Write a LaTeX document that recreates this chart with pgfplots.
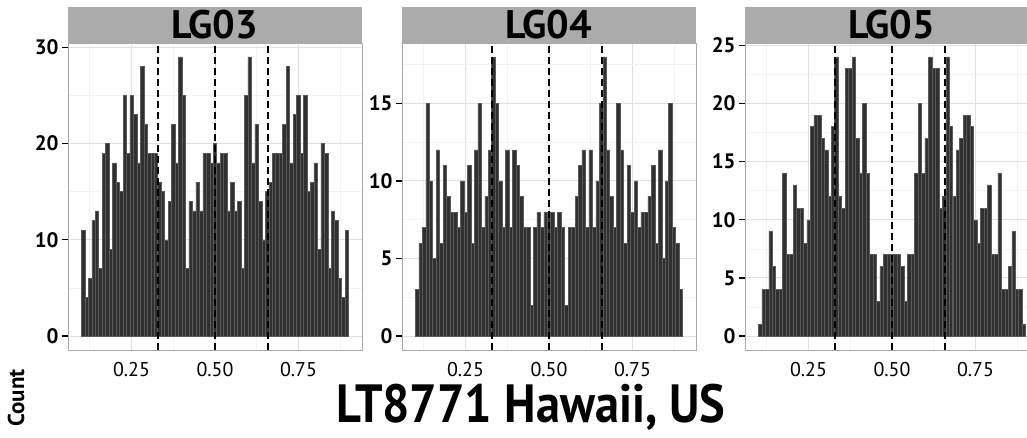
\documentclass[border=0pt]{standalone}
\usepackage{fontspec}
\setmainfont{PT Sans}
\usepackage{graphicx}
\usepackage{pgfplots}
\usepackage{pgfplotstable}
\pgfplotsset{compat=1.18}

\definecolor{barfill}{HTML}{303030}
\definecolor{baredge}{HTML}{5A5A5A}
\definecolor{stripgray}{HTML}{ABABAB}
\definecolor{gridmaj}{HTML}{E0E0E0}
\definecolor{gridmin}{HTML}{F2F2F2}
\definecolor{border}{HTML}{A8A8A8}

% bin centre, then counts for LG03, LG04, LG05
\pgfplotstableread{
x      lga lgb lgc
0.1052 11 3 1
0.1156 4 6 4
0.1260 6 7 4
0.1364 12 15 9
0.1468 13 10 6
0.1571 7 5 4
0.1675 19 12 4
0.1779 20 6 14
0.1883 9 11 7
0.1987 18 9 7
0.2091 16 8 13
0.2195 15 8 11
0.2299 25 7 11
0.2403 19 10 8
0.2506 25 8 10
0.2610 23 11 18
0.2714 18 6 19
0.2818 28 12 19
0.2922 22 15 17
0.3026 19 7 16
0.3130 19 9 12
0.3234 19 12 18
0.3338 16 18 24
0.3442 15 15 12
0.3545 10 10 11
0.3649 14 7 23
0.3753 22 12 23
0.3857 18 7 24
0.3961 29 12 17
0.4065 25 11 14
0.4169 7 9 20
0.4273 14 7 14
0.4377 13 7 7
0.4481 16 2 7
0.4584 13 7 3
0.4688 19 8 6
0.4792 19 7 7
0.4896 18 8 7
0.5000 20 8 7
0.5104 18 8 7
0.5208 19 7 7
0.5312 19 8 6
0.5416 13 7 3
0.5519 16 2 7
0.5623 13 7 7
0.5727 14 7 14
0.5831 7 9 20
0.5935 25 11 14
0.6039 29 12 17
0.6143 18 7 24
0.6247 22 12 23
0.6351 14 7 23
0.6455 10 10 11
0.6558 15 15 12
0.6662 16 18 24
0.6766 19 12 18
0.6870 19 9 12
0.6974 19 7 16
0.7078 22 15 17
0.7182 28 12 19
0.7286 18 6 19
0.7390 23 11 18
0.7494 25 8 10
0.7597 19 10 8
0.7701 25 7 11
0.7805 15 8 11
0.7909 16 8 13
0.8013 18 9 7
0.8117 9 11 7
0.8221 20 6 14
0.8325 19 12 4
0.8429 7 5 4
0.8532 13 10 6
0.8636 12 15 9
0.8740 6 7 4
0.8844 4 6 4
0.8948 11 3 1
}\counts

\pgfplotsset{
  panel/.style={
    scale only axis, width=294bp, height=307bp,
    xmin=0.06, xmax=0.94,
    axis line style={border, line width=0.8bp},
    grid=both,
    major grid style={gridmaj, line width=1bp},
    minor grid style={gridmin, line width=0.6bp},
    xtick={0.25,0.5,0.75}, xticklabels={0.25,0.50,0.75},
    minor xtick={0.125,0.375,0.625,0.875},
    tick pos=left, tick align=outside,
    major tick length=6bp, minor tick length=0pt,
    xtick style={draw=none},
    ytick style={black, line width=1.3bp},
    xticklabel style={font=\fontsize{20}{20}\selectfont, yshift=-3bp},
    yticklabel style={font=\bfseries\fontsize{21}{21}\selectfont},
    /pgf/number format/assume math mode=true,
  },
  bars/.style={ybar, bar width=0.01039, bar shift=0pt, fill=barfill, draw=baredge, line width=0.5bp},
  guide/.style={black, line width=2bp, dash pattern=on 7bp off 4bp},
}

\begin{document}
\begin{tikzpicture}
\path[use as bounding box] (0bp,0bp) rectangle (1027bp,438bp);
\clip (0bp,0bp) rectangle (1027bp,438bp);

\begin{axis}[panel, name=p1, at={(68bp,88bp)}, anchor=south west,
  ymin=-1.45, ymax=30.45, ytick={0,10,20,30}, minor ytick={5,15,25}]
\addplot[bars] table[x=x, y=lga] {\counts};
\addplot[guide] coordinates {(0.33,-1.45) (0.33,30.45)};
\addplot[guide] coordinates {(0.5,-1.45) (0.5,30.45)};
\addplot[guide] coordinates {(0.66,-1.45) (0.66,30.45)};
\end{axis}

\begin{axis}[panel, name=p2, at={(402bp,88bp)}, anchor=south west,
  ymin=-0.9, ymax=18.9, ytick={0,5,10,15}, minor ytick={2.5,7.5,12.5,17.5}]
\addplot[bars] table[x=x, y=lgb] {\counts};
\addplot[guide] coordinates {(0.33,-0.9) (0.33,18.9)};
\addplot[guide] coordinates {(0.5,-0.9) (0.5,18.9)};
\addplot[guide] coordinates {(0.66,-0.9) (0.66,18.9)};
\end{axis}

\begin{axis}[panel, name=p3, at={(745bp,88bp)}, anchor=south west,
  ymin=-1.2, ymax=25.2, ytick={0,5,10,15,20,25}, minor ytick={2.5,7.5,12.5,17.5,22.5}]
\addplot[bars] table[x=x, y=lgc] {\counts};
\addplot[guide] coordinates {(0.33,-1.2) (0.33,25.2)};
\addplot[guide] coordinates {(0.5,-1.2) (0.5,25.2)};
\addplot[guide] coordinates {(0.66,-1.2) (0.66,25.2)};
\end{axis}

% facet strips
\foreach \p/\lab in {p1/LG03, p2/LG04, p3/LG05}{
  \fill[stripgray] (\p.north west) rectangle ([yshift=36bp]\p.north east);
  \node[font=\bfseries\fontsize{40}{40}\selectfont, inner sep=0pt] at ([yshift=18bp]\p.north) {\lab};
}

\node[rotate=90, font=\bfseries\fontsize{23}{23}\selectfont] at (16bp,40bp) {Count};
\node[font=\bfseries\fontsize{54}{54}\selectfont, anchor=base] at (531bp,16bp) {\scalebox{0.9}[1]{LT8771 Hawaii, US}};
\end{tikzpicture}
\end{document}
